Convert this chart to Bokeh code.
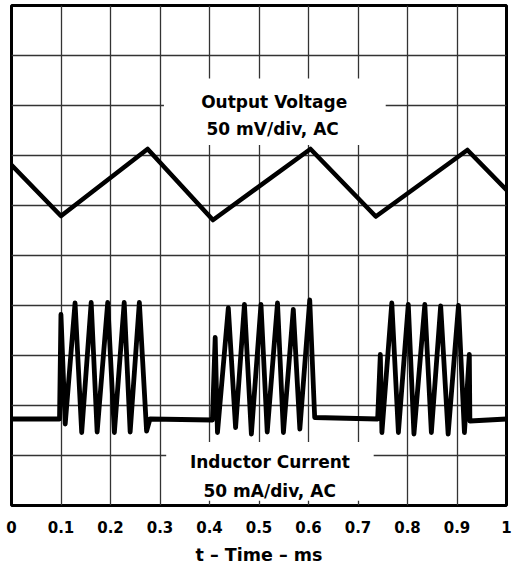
from bokeh.plotting import figure
from bokeh.models import Range1d, FixedTicker
from bokeh.core.properties import value
from bokeh.embed import file_html
from bokeh.resources import INLINE

# ---- data (time in ms, amplitude in screen divisions) ----
time_ticks = [0.0, 0.1, 0.2, 0.3, 0.4, 0.5, 0.6, 0.7, 0.8, 0.9, 1.0]
tick_labels = ["0", "0.1", "0.2", "0.3", "0.4", "0.5", "0.6", "0.7", "0.8", "0.9", "1"]
div_ticks = [0, 1, 2, 3, 4, 5, 6, 7, 8, 9, 10]

volt_t = [0.0, 0.100, 0.275, 0.407, 0.604, 0.736, 0.921, 1.0]
volt_div = [6.81, 5.79, 7.13, 5.71, 7.13, 5.78, 7.11, 6.31]

curr_t = [0.0, 0.097, 0.0999, 0.1085, 0.1284, 0.1418, 0.161, 0.173, 0.1944, 0.2078,
          0.2277, 0.2397, 0.2583, 0.2729, 0.2797,
          0.4059, 0.4115, 0.4161, 0.438, 0.4527, 0.4706, 0.4846, 0.504, 0.5166, 0.5374,
          0.5493, 0.5693, 0.5825, 0.6025, 0.6125,
          0.7397, 0.7451, 0.7483, 0.7683, 0.7816, 0.8016, 0.813, 0.835, 0.8482, 0.867,
          0.8821, 0.903, 0.915, 0.9249, 0.926, 1.0]
curr_div = [1.73, 1.73, 3.82, 1.63, 4.05, 1.46, 4.06, 1.47, 4.06, 1.46,
            4.06, 1.47, 4.06, 1.49, 1.73,
            1.71, 3.36, 1.46, 3.95, 1.56, 4.02, 1.43, 4.02, 1.47, 4.05,
            1.46, 3.92, 1.53, 4.11, 1.76,
            1.73, 3.02, 1.46, 4.05, 1.46, 4.02, 1.43, 4.02, 1.46, 3.99,
            1.43, 4.0, 1.46, 3.02, 1.69, 1.73]

volt_label = ["Output Voltage", "50 mV/div, AC"]
curr_label = ["Inductor Current", "50 mA/div, AC"]
x_title = "t \u2013 Time \u2013 ms"

FONT = "DejaVu Sans"

p = figure(width=512, height=567, output_backend="svg", toolbar_location=None,
           x_range=Range1d(0, 1), y_range=Range1d(0, 10),
           min_border_left=11, min_border_right=6, min_border_top=5,
           min_border_bottom=61)
p.background_fill_color = "white"
p.border_fill_color = "white"
p.outline_line_color = "black"
p.outline_line_width = 3
p.outline_line_alpha = 1.0

p.yaxis.visible = False
ax = p.xaxis[0]
ax.ticker = FixedTicker(ticks=time_ticks)
ax.major_label_overrides = dict(zip(time_ticks, tick_labels))
ax.axis_line_color = None
ax.major_tick_line_color = None
ax.minor_tick_line_color = None
ax.major_tick_in = 0
ax.major_tick_out = 0
ax.major_label_standoff = 15
ax.major_label_text_font = FONT
ax.major_label_text_font_style = "bold"
ax.major_label_text_font_size = "15px"
ax.major_label_text_color = "black"
ax.axis_label = x_title
ax.axis_label_standoff = 9
ax.axis_label_text_font = FONT
ax.axis_label_text_font_style = "bold"
ax.axis_label_text_font_size = "17.5px"
ax.axis_label_text_color = "black"

p.xgrid.ticker = FixedTicker(ticks=time_ticks)
p.ygrid.ticker = FixedTicker(ticks=div_ticks)
for g in (p.xgrid[0], p.ygrid[0]):
    g.grid_line_color = "#333333"
    g.grid_line_width = 1.3
    g.grid_line_alpha = 1.0

# white label backgrounds that mask the graticule
p.quad(left=[0.308, 0.3125], right=[0.756, 0.7317], bottom=[7.21, 0.094], top=[8.54, 1.27],
       fill_color="white", line_color=None)

p.line(volt_t, volt_div, line_color="black", line_width=4.6, line_join="round")
p.line(curr_t, curr_div, line_color="black", line_width=4.8, line_join="round")

p.text(x=[0.5306, 0.5276], y=[8.07, 7.54], text=volt_label,
       text_font=value(FONT), text_font_style="bold", text_font_size="17px",
       text_align="center", text_baseline="alphabetic", text_color="black")
p.text(x=[0.522, 0.5216], y=[0.865, 0.299], text=curr_label,
       text_font=value(FONT), text_font_style="bold", text_font_size="17px",
       text_align="center", text_baseline="alphabetic", text_color="black")

open("out.html", "w").write(file_html(p, INLINE))
